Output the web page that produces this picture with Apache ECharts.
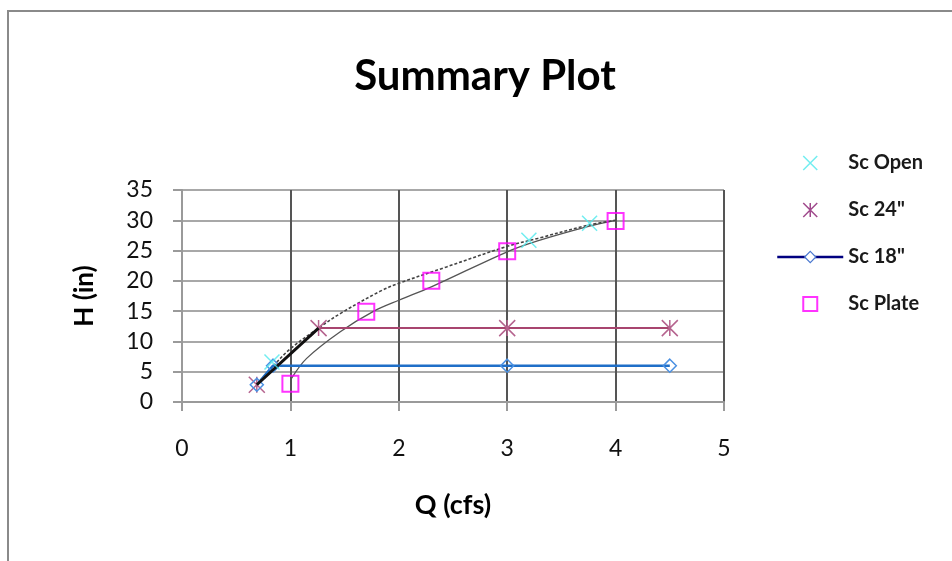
<!DOCTYPE html>
<html>
<head>
<meta charset="utf-8">
<script src="https://cdn.jsdelivr.net/npm/echarts@6/dist/echarts.min.js"></script>
<style>
  html, body { margin: 0; padding: 0; background: #ffffff; }
  #chart { width: 952px; height: 561px; }
</style>
</head>
<body>
<div id="chart"></div>
<script>
// Measured discharge (Q, cfs) vs. head (H, in) for each configuration
const scOpen  = [[0.83, 6.6], [3.2, 26.7], [3.76, 29.5]];
const sc24    = [[0.69, 2.85], [1.26, 12.2], [3.0, 12.2], [4.5, 12.2]];
const sc18    = [[0.69, 2.85], [0.84, 6.0], [3.0, 6.0], [4.5, 6.0]];
const scPlate = [[1.0, 3.0], [1.7, 14.9], [2.3, 20.0], [3.0, 24.9], [4.0, 29.9]];

// Fitted curves through the data
const fitUpper = [[0.69, 2.85], [0.84, 5.9], [1.0, 8.8], [1.26, 12.2], [1.46, 14.6], [1.83, 18.3],
                  [2.0, 19.6], [2.44, 22.3], [3.0, 25.7], [3.28, 27.0], [3.75, 29.2], [4.0, 30.0]];
const fitStart = [[0.69, 2.85], [1.26, 12.2]];
const fitLower = [[1.01, 3.9], [1.15, 7.2], [1.46, 11.6], [1.77, 15.0], [2.0, 16.8], [2.3, 19.0],
                  [3.0, 24.8], [3.28, 26.6], [3.75, 29.0], [4.0, 30.0]];

const xTicks = [0, 1, 2, 3, 4, 5];
const yTicks = [0, 5, 10, 15, 20, 25, 30, 35];

const FONT = 'Lato, "Open Sans", sans-serif';
const CROSS = 'path://M0 0L10 10M10 0L0 10';
const STAR = 'path://M0 0L10 10M10 0L0 10M5 0L5 10';
const SQUARE = 'path://M0 0L10 0L10 10L0 10Z';

const chart = echarts.init(document.getElementById('chart'), null, { renderer: 'canvas' });

chart.setOption({
  backgroundColor: '#ffffff',
  animation: false,
  title: {
    text: 'Summary Plot',
    left: 480, textAlign: 'center', top: 50,
    textStyle: { fontFamily: FONT, fontSize: 42, fontWeight: 'bold', color: '#000' }
  },
  graphic: [{
    type: 'rect', silent: true,
    shape: { x: 8, y: 11, width: 1000, height: 600 },
    style: { fill: 'none', stroke: '#8a8a8a', lineWidth: 2 }
  }],
  legend: {
    orient: 'vertical', left: 771, top: 148,
    itemWidth: 66, itemHeight: 14, itemGap: 27,
    textStyle: { fontFamily: FONT, fontSize: 20, fontWeight: 'bold', color: '#1a1a1a' },
    data: [
      { name: 'Sc Open', icon: CROSS, itemStyle: { color: 'transparent', borderColor: '#4ee8ec', borderWidth: 1.5 } },
      { name: 'Sc 24"', icon: STAR, itemStyle: { color: 'transparent', borderColor: '#a04a8c', borderWidth: 1.5 } },
      { name: 'Sc 18"', itemStyle: { color: '#fff', borderColor: '#4a78d0', borderWidth: 1.2 },
        lineStyle: { color: '#000080', width: 2.5 } },
      { name: 'Sc Plate', icon: SQUARE, itemStyle: { color: 'transparent', borderColor: '#ff00ff', borderWidth: 2 } }
    ]
  },
  grid: { left: 182, right: 228, top: 190, bottom: 159, containLabel: false },
  xAxis: {
    type: 'value', min: 0, max: 5, interval: 1,
    name: 'Q (cfs)', nameLocation: 'middle', nameGap: 90,
    nameTextStyle: { fontFamily: FONT, fontSize: 27, fontWeight: 'bold', color: '#000' },
    axisLine: { show: true, onZero: false, lineStyle: { color: '#9a9a9a', width: 2 } },
    axisTick: { show: true, length: 9, lineStyle: { color: '#9a9a9a', width: 2 } },
    axisLabel: { margin: 35, fontFamily: FONT, fontSize: 23, color: '#111',
                 formatter: v => xTicks.includes(v) ? String(v) : '' },
    splitLine: { show: true, lineStyle: { color: '#555', width: 2 } }
  },
  yAxis: {
    type: 'value', min: 0, max: 35, interval: 5,
    name: 'H (in)', nameLocation: 'middle', nameGap: 84, nameRotate: 90,
    nameTextStyle: { fontFamily: FONT, fontSize: 26, fontWeight: 'bold', color: '#000' },
    axisLine: { show: true, onZero: false, lineStyle: { color: '#9a9a9a', width: 2 } },
    axisTick: { show: true, length: 9, lineStyle: { color: '#9a9a9a', width: 2 } },
    axisLabel: { margin: 29, fontFamily: FONT, fontSize: 23, color: '#111',
                 formatter: v => yTicks.includes(v) ? String(v) : '' },
    splitLine: { show: true, lineStyle: { color: '#a8a8a8', width: 2 } }
  },
  series: [
    {
      name: 'fit-lower', type: 'line', data: fitLower, smooth: 0.35, showSymbol: false, silent: true,
      lineStyle: { color: '#555', width: 1.3 }, z: 3
    },
    {
      name: 'fit-upper', type: 'line', data: fitUpper, smooth: 0.35, showSymbol: false, silent: true,
      lineStyle: { color: '#444', width: 1.6, type: [3, 2] }, z: 3
    },
    {
      name: 'Sc 24"', type: 'line', data: sc24, symbol: STAR, symbolSize: 16,
      lineStyle: { color: '#a8456f', width: 2 },
      itemStyle: { color: 'transparent', borderColor: '#b5638e', borderWidth: 1.5 }, z: 4
    },
    {
      name: 'Sc 18"', type: 'line', data: sc18, symbol: 'diamond', symbolSize: 13,
      lineStyle: { color: '#1f6fc8', width: 2.5 },
      itemStyle: { color: 'transparent', borderColor: '#4a90e2', borderWidth: 1.5 }, z: 4
    },
    {
      name: 'fit-start', type: 'line', data: fitStart, showSymbol: false, silent: true,
      lineStyle: { color: '#111', width: 3 }, z: 5
    },
    {
      name: 'Sc Open', type: 'scatter', data: scOpen, symbol: CROSS, symbolSize: 15,
      itemStyle: { color: 'transparent', borderColor: '#4ee8ec', borderWidth: 1.5 }, z: 6
    },
    {
      name: 'Sc Plate', type: 'scatter', data: scPlate, symbol: SQUARE, symbolSize: 16,
      itemStyle: { color: 'transparent', borderColor: '#ff00ff', borderWidth: 2 }, z: 6
    }
  ]
});
</script>
</body>
</html>
